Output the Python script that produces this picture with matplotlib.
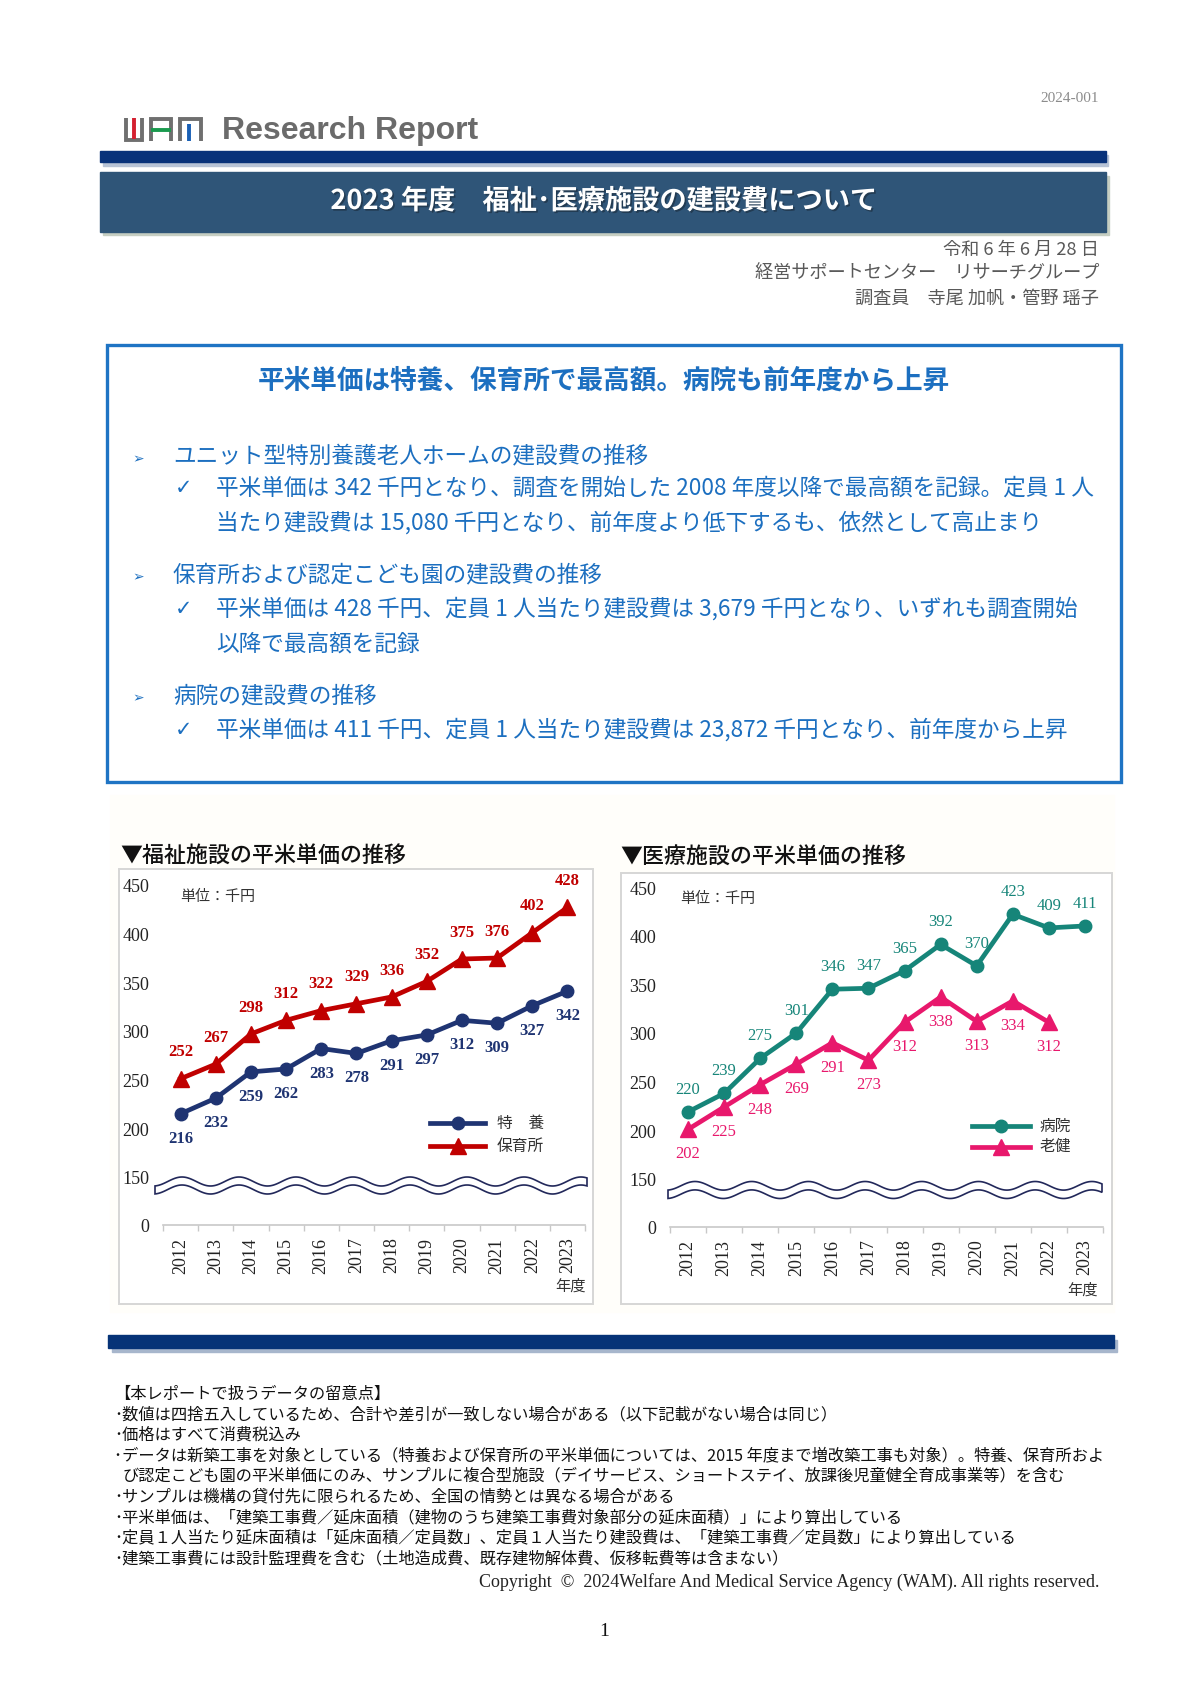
import matplotlib
matplotlib.use('Agg')
import matplotlib.pyplot as plt
import numpy as np
from matplotlib.patches import Rectangle, Polygon
from matplotlib.lines import Line2D
import matplotlib.patheffects as pe

plt.rcParams['font.family'] = ['Noto Sans CJK JP', 'DejaVu Sans']

# ---------------- data ----------------
years = ['2012', '2013', '2014', '2015', '2016', '2017', '2018', '2019', '2020', '2021', '2022', '2023']
tokuyo = [216, 232, 259, 262, 283, 278, 291, 297, 312, 309, 327, 342]        # 特養
hoikusho = [252, 267, 298, 312, 322, 329, 336, 352, 375, 376, 402, 428]      # 保育所
byoin = [220, 239, 275, 301, 346, 347, 365, 392, 370, 423, 409, 411]         # 病院
roken = [202, 225, 248, 269, 291, 273, 312, 338, 313, 334, 312]              # 老健 (to 2022)
ytick_values = [150, 200, 250, 300, 350, 400, 450]
ytick_labels = ['150', '200', '250', '300', '350', '400', '450']

W, H = 1200, 1697
fig = plt.figure(figsize=(W / 100, H / 100), dpi=100)


def fx(x):
    return x / W


def fy(y):
    return 1 - y / H


def rect(x0, y0, x1, y1, z=-1, **kw):
    fig.add_artist(Rectangle((fx(x0), fy(y1)), (x1 - x0) / W, (y1 - y0) / H,
                             transform=fig.transFigure, zorder=z, **kw))


def txt(x, y, s, **kw):
    kw.setdefault('va', 'center')
    return fig.text(fx(x), fy(y), s, **kw)


def pline(xs, ys, **kw):
    fig.add_artist(Line2D([fx(v) for v in xs], [fy(v) for v in ys],
                          transform=fig.transFigure, **kw))


# ---------------- header ----------------
txt(1099, 98, '2024-001', ha='right', fontsize=11, color='#8c8c8c', family='Liberation Serif')

GRAY = '#6f6f6f'
LW = 2.8
pline([125.5, 125.5, 141.5, 141.5], [118, 140, 140, 118], color=GRAY, lw=LW, solid_joinstyle='miter', solid_capstyle='butt')
pline([133.5, 133.5], [118, 138.5], color='#d42030', lw=LW, solid_capstyle='butt')
pline([151.3, 151.3, 170.5, 170.5], [141, 119, 119, 141], color=GRAY, lw=LW, solid_joinstyle='miter', solid_capstyle='butt')
pline([151.3, 170.5], [130, 130], color='#1a9a4e', lw=LW, solid_capstyle='butt')
pline([179.5, 179.5, 200.5, 200.5], [141, 119, 119, 141], color=GRAY, lw=LW, solid_joinstyle='miter', solid_capstyle='butt')
pline([189, 189], [124, 141], color='#1a60b5', lw=LW, solid_capstyle='butt')
txt(222, 131, 'Research Report', ha='left', fontsize=23, fontweight='bold', color='#6b6b6b',
    family='Liberation Sans')

rect(103, 155, 1108, 166, color='#b7c3d6')
rect(100, 151, 1106, 162, color='#08327a')

rect(103, 176, 1109, 235, color='#c6cec2')
rect(100, 172, 1106, 232, color='#2f5578')
txt(604, 201, '2023 年度　福祉･医療施設の建設費について', ha='center', fontsize=19.6,
    fontweight='bold', color='white',
    path_effects=[pe.withSimplePatchShadow(offset=(1.2, -1.2), shadow_rgbFace='#1a2a3a', alpha=0.6)])

HG = '#595959'
txt(1099, 250, '令和 6 年 6 月 28 日', ha='right', fontsize=13.1, color=HG)
txt(1099, 274, '経営サポートセンター　リサーチグループ', ha='right', fontsize=13.1, color=HG)
txt(1099, 299, '調査員　寺尾 加帆・管野 瑶子', ha='right', fontsize=13.1, color=HG)

# ---------------- summary box ----------------
BLUE = '#1c6fc0'
rect(107, 345, 1121, 782, color='none', ec='#1f74c4', lw=2.4, z=1)
txt(604, 381, '平米単価は特養、保育所で最高額。病院も前年度から上昇', ha='center', fontsize=19.2,
    fontweight='bold', color=BLUE)

BFS = 16.3
bullet_rows = [
    (457, '➢', 'ユニット型特別養護老人ホームの建設費の推移'),
    (575, '➢', '保育所および認定こども園の建設費の推移'),
    (696, '➢', '病院の建設費の推移'),
]
for y, mk, s in bullet_rows:
    txt(138, y + 2, mk, ha='center', fontsize=10, color=BLUE, family=['DejaVu Sans'])
    txt(173, y, s, ha='left', fontsize=BFS, color=BLUE)

check_rows = [
    (488, '平米単価は 342 千円となり、調査を開始した 2008 年度以降で最高額を記録。定員 1 人'),
    (609, '平米単価は 428 千円、定員 1 人当たり建設費は 3,679 千円となり、いずれも調査開始'),
    (730, '平米単価は 411 千円、定員 1 人当たり建設費は 23,872 千円となり、前年度から上昇'),
]
for y, s in check_rows:
    txt(184, y, '✓', ha='center', fontsize=15, color=BLUE, family=['DejaVu Sans'])
    txt(216, y, s, ha='left', fontsize=BFS, color=BLUE)
txt(216, 523, '当たり建設費は 15,080 千円となり、前年度より低下するも、依然として高止まり', ha='left',
    fontsize=BFS, color=BLUE)
txt(216, 644, '以降で最高額を記録', ha='left', fontsize=BFS, color=BLUE)

# ---------------- charts ----------------
rect(110, 795, 1114, 1312, color='#fffefa', z=-3)


def wave(x0, x1, xpeak, period, yc, amp, half):
    xs = np.linspace(x0, x1, 300)
    yc_arr = yc - amp * np.cos(2 * np.pi * (xs - xpeak) / period)
    up = yc_arr - half
    lo = yc_arr + half
    pts = np.concatenate([np.column_stack([xs, up]), np.column_stack([xs[::-1], lo[::-1]])])
    pts_f = np.column_stack([pts[:, 0] / W, 1 - pts[:, 1] / H])
    fig.add_artist(Polygon(pts_f, closed=True, transform=fig.transFigure, fc='white',
                           ec='#22285a', lw=1.2, zorder=2))


def chart(frame, box, y150, title, title_xy, unit_xy, nendo_xy,
          s1, s2, c1, c2, lab1_off, lab2_off, bold, names, leg_x, leg_y, leg_tx, wv):
    fx0, fy0, fx1, fy1 = frame
    rect(fx0, fy0, fx1, fy1, color='white', ec='#d6d6d6', lw=1.4, z=-2)
    txt(title_xy[0], title_xy[1], title, ha='left', fontsize=15.8, color='#111111', fontweight='medium')

    left, top, right, bottom = box
    scale = (y150 - top) / 300.0
    ymin = 150 - (bottom - y150) / scale
    ax = fig.add_axes([fx(left), fy(bottom), (right - left) / W, (bottom - top) / H])
    ax.patch.set_alpha(0)
    x = np.arange(len(years))
    ax.plot(x[:len(s1)], s1, color=c1, lw=3.4, marker='o', ms=9, zorder=3, clip_on=False)
    ax.plot(x[:len(s2)], s2, color=c2, lw=3.4, marker='^', ms=11.5, zorder=3, clip_on=False)
    fw = 'bold' if bold else 'normal'
    for xi, v in zip(x, s1):
        ax.annotate(str(v), (xi, v), xytext=(0, lab1_off), textcoords='offset points',
                    ha='center', va='center', fontsize=12, color=c1, fontweight=fw,
                    family='Liberation Serif', annotation_clip=False)
    for xi, v in zip(x, s2):
        ax.annotate(str(v), (xi, v), xytext=(0, lab2_off), textcoords='offset points',
                    ha='center', va='center', fontsize=12, color=c2, fontweight=fw,
                    family='Liberation Serif', annotation_clip=False)
    ax.set_xlim(-0.5, len(years) - 0.5)
    ax.set_ylim(ymin, 450)
    ax.set_yticks([ymin] + ytick_values)
    ax.set_yticklabels(['0'] + ytick_labels, family='Liberation Serif', fontsize=13, color='#222222')
    ax.set_xticks(x)
    ax.set_xticklabels(years, rotation=90, family='Liberation Serif', fontsize=13, color='#222222')
    ax.set_xticks(np.arange(-0.5, len(years)), minor=True)
    ax.tick_params(axis='y', length=0, pad=10)
    ax.tick_params(axis='x', which='major', length=0, pad=9)
    ax.tick_params(axis='x', which='minor', length=4, color='#c8c8c8', width=1)
    for sp in ['top', 'right', 'left']:
        ax.spines[sp].set_visible(False)
    ax.spines['bottom'].set_color('#c8c8c8')
    ax.spines['bottom'].set_linewidth(1.2)

    txt(unit_xy[0], unit_xy[1], '単位：千円', ha='left', fontsize=10.8, color='#333333')
    txt(nendo_xy[0], nendo_xy[1], '年度', ha='center', fontsize=11, color='#333333')

    # legend
    for (cc, mk, ms), ly, nm in zip([(c1, 'o', 9), (c2, '^', 11.5)], leg_y, names):
        pline([leg_x[0], leg_x[1]], [ly, ly], color=cc, lw=3.4)
        pline([(leg_x[0] + leg_x[1]) / 2], [ly], color=cc, marker=mk, ms=ms, lw=0)
        txt(leg_tx, ly, nm, ha='left', fontsize=11.3, color='#333333')

    wave(*wv)
    return ax


chart(frame=(119, 869, 593, 1304), box=(163, 886, 585, 1225), y150=1178,
      title='▼福祉施設の平米単価の推移', title_xy=(120, 856), unit_xy=(180, 897), nendo_xy=(571, 1286),
      s1=tokuyo, s2=hoikusho, c1='#1f3472', c2='#c00000', lab1_off=-18, lab2_off=19, bold=True,
      names=['特　養', '保育所'], leg_x=(430, 485), leg_y=(1123, 1146), leg_tx=497,
      wv=(155, 587, 182, 57, 1185.5, 4.5, 4.0))

chart(frame=(621, 873, 1112, 1304), box=(670, 888, 1103, 1227), y150=1180,
      title='▼医療施設の平米単価の推移', title_xy=(620, 857), unit_xy=(680, 899), nendo_xy=(1082, 1290),
      s1=byoin, s2=roken, c1='#168579', c2='#e8186c', lab1_off=16, lab2_off=-18, bold=False,
      names=['病院', '老健'], leg_x=(972, 1030), leg_y=(1126, 1147), leg_tx=1040,
      wv=(668, 1102, 695, 56.7, 1190, 4.3, 4.2))

# ---------------- footer ----------------
rect(112, 1340, 1117, 1352, color='#a7b6cc')
rect(108, 1335, 1114, 1348, color='#063377')

notes = [
    '【本レポートで扱うデータの留意点】',
    '･数値は四捨五入しているため、合計や差引が一致しない場合がある（以下記載がない場合は同じ）',
    '･価格はすべて消費税込み',
    '･データは新築工事を対象としている（特養および保育所の平米単価については、2015 年度まで増改築工事も対象）。特養、保育所およ',
    'び認定こども園の平米単価にのみ、サンプルに複合型施設（デイサービス、ショートステイ、放課後児童健全育成事業等）を含む',
    '･サンプルは機構の貸付先に限られるため、全国の情勢とは異なる場合がある',
    '･平米単価は、「建築工事費／延床面積（建物のうち建築工事費対象部分の延床面積）」により算出している',
    '･定員１人当たり延床面積は「延床面積／定員数」、定員１人当たり建設費は、「建築工事費／定員数」により算出している',
    '･建築工事費には設計監理費を含む（土地造成費、既存建物解体費、仮移転費等は含まない）',
]
for i, s in enumerate(notes):
    xx = 123 if i == 4 else 114
    txt(xx, 1394 + 20.6 * i, s, ha='left', fontsize=11.7, color='#111111')

txt(1099, 1582, 'Copyright  ©  2024Welfare And Medical Service Agency (WAM). All rights reserved.',
    ha='right', fontsize=13, color='#222222', family='Liberation Serif')
txt(604, 1632, '1', ha='center', fontsize=14, color='#111111', family='Liberation Serif')

fig.savefig('out.png', dpi=100, facecolor='white')
